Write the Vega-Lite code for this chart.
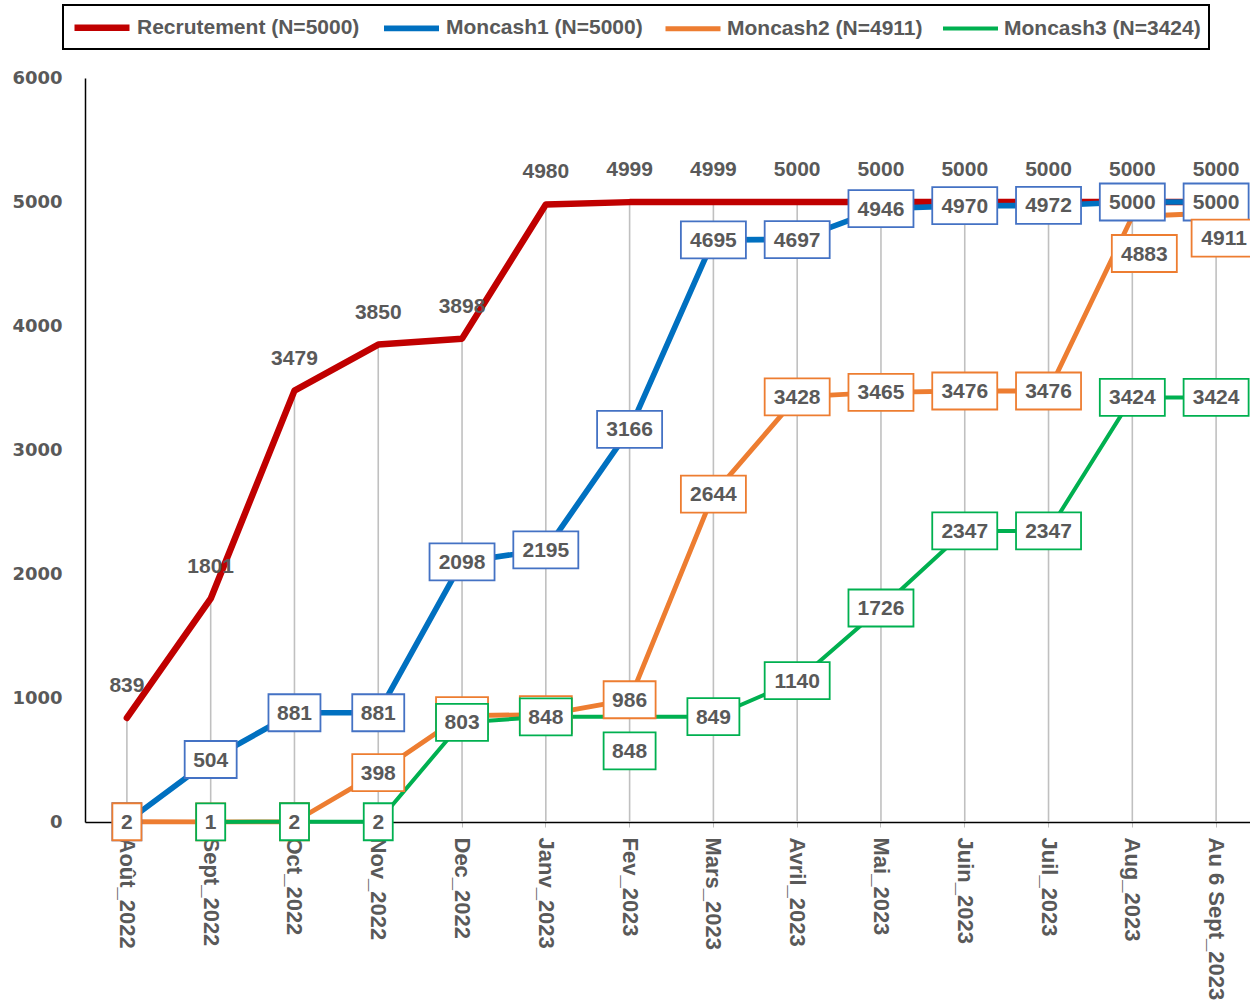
{
  "$schema": "https://vega.github.io/schema/vega-lite/v6.json",
  "width": 1173,
  "height": 744,
  "autosize": "none",
  "padding": {"left": 85, "top": 78, "right": 0, "bottom": 179},
  "background": "white",
  "config": {"view": {"stroke": null}, "font": "Liberation Sans"},
  "data": {
    "values": [
      {"mois": "Août_2022", "serie": "Recrutement (N=5000)", "n": 839},
      {"mois": "Sept_2022", "serie": "Recrutement (N=5000)", "n": 1801},
      {"mois": "Oct_2022", "serie": "Recrutement (N=5000)", "n": 3479},
      {"mois": "Nov_2022", "serie": "Recrutement (N=5000)", "n": 3850},
      {"mois": "Dec_2022", "serie": "Recrutement (N=5000)", "n": 3898},
      {"mois": "Janv_2023", "serie": "Recrutement (N=5000)", "n": 4980},
      {"mois": "Fev_2023", "serie": "Recrutement (N=5000)", "n": 4999},
      {"mois": "Mars_2023", "serie": "Recrutement (N=5000)", "n": 4999},
      {"mois": "Avril_2023", "serie": "Recrutement (N=5000)", "n": 5000},
      {"mois": "Mai_2023", "serie": "Recrutement (N=5000)", "n": 5000},
      {"mois": "Juin_2023", "serie": "Recrutement (N=5000)", "n": 5000},
      {"mois": "Juil_2023", "serie": "Recrutement (N=5000)", "n": 5000},
      {"mois": "Aug_2023", "serie": "Recrutement (N=5000)", "n": 5000},
      {"mois": "Au 6 Sept_2023", "serie": "Recrutement (N=5000)", "n": 5000},
      {"mois": "Août_2022", "serie": "Moncash1 (N=5000)", "n": 2},
      {"mois": "Sept_2022", "serie": "Moncash1 (N=5000)", "n": 504},
      {"mois": "Oct_2022", "serie": "Moncash1 (N=5000)", "n": 881},
      {"mois": "Nov_2022", "serie": "Moncash1 (N=5000)", "n": 881},
      {"mois": "Dec_2022", "serie": "Moncash1 (N=5000)", "n": 2098},
      {"mois": "Janv_2023", "serie": "Moncash1 (N=5000)", "n": 2195},
      {"mois": "Fev_2023", "serie": "Moncash1 (N=5000)", "n": 3166},
      {"mois": "Mars_2023", "serie": "Moncash1 (N=5000)", "n": 4695},
      {"mois": "Avril_2023", "serie": "Moncash1 (N=5000)", "n": 4697},
      {"mois": "Mai_2023", "serie": "Moncash1 (N=5000)", "n": 4946},
      {"mois": "Juin_2023", "serie": "Moncash1 (N=5000)", "n": 4970},
      {"mois": "Juil_2023", "serie": "Moncash1 (N=5000)", "n": 4972},
      {"mois": "Aug_2023", "serie": "Moncash1 (N=5000)", "n": 5000},
      {"mois": "Au 6 Sept_2023", "serie": "Moncash1 (N=5000)", "n": 5000},
      {"mois": "Août_2022", "serie": "Moncash2 (N=4911)", "n": 2},
      {"mois": "Sept_2022", "serie": "Moncash2 (N=4911)", "n": 1},
      {"mois": "Oct_2022", "serie": "Moncash2 (N=4911)", "n": 2},
      {"mois": "Nov_2022", "serie": "Moncash2 (N=4911)", "n": 398},
      {"mois": "Dec_2022", "serie": "Moncash2 (N=4911)", "n": 858},
      {"mois": "Janv_2023", "serie": "Moncash2 (N=4911)", "n": 866},
      {"mois": "Fev_2023", "serie": "Moncash2 (N=4911)", "n": 986},
      {"mois": "Mars_2023", "serie": "Moncash2 (N=4911)", "n": 2644},
      {"mois": "Avril_2023", "serie": "Moncash2 (N=4911)", "n": 3428},
      {"mois": "Mai_2023", "serie": "Moncash2 (N=4911)", "n": 3465},
      {"mois": "Juin_2023", "serie": "Moncash2 (N=4911)", "n": 3476},
      {"mois": "Juil_2023", "serie": "Moncash2 (N=4911)", "n": 3476},
      {"mois": "Aug_2023", "serie": "Moncash2 (N=4911)", "n": 4883},
      {"mois": "Au 6 Sept_2023", "serie": "Moncash2 (N=4911)", "n": 4911},
      {"mois": "Sept_2022", "serie": "Moncash3 (N=3424)", "n": 1},
      {"mois": "Oct_2022", "serie": "Moncash3 (N=3424)", "n": 2},
      {"mois": "Nov_2022", "serie": "Moncash3 (N=3424)", "n": 2},
      {"mois": "Dec_2022", "serie": "Moncash3 (N=3424)", "n": 803},
      {"mois": "Janv_2023", "serie": "Moncash3 (N=3424)", "n": 848},
      {"mois": "Fev_2023", "serie": "Moncash3 (N=3424)", "n": 848},
      {"mois": "Mars_2023", "serie": "Moncash3 (N=3424)", "n": 849},
      {"mois": "Avril_2023", "serie": "Moncash3 (N=3424)", "n": 1140},
      {"mois": "Mai_2023", "serie": "Moncash3 (N=3424)", "n": 1726},
      {"mois": "Juin_2023", "serie": "Moncash3 (N=3424)", "n": 2347},
      {"mois": "Juil_2023", "serie": "Moncash3 (N=3424)", "n": 2347},
      {"mois": "Aug_2023", "serie": "Moncash3 (N=3424)", "n": 3424},
      {"mois": "Au 6 Sept_2023", "serie": "Moncash3 (N=3424)", "n": 3424}
    ]
  },
  "encoding": {
    "x": {
      "field": "mois",
      "type": "ordinal",
      "scale": {"domain": ["Août_2022", "Sept_2022", "Oct_2022", "Nov_2022", "Dec_2022", "Janv_2023", "Fev_2023", "Mars_2023", "Avril_2023", "Mai_2023", "Juin_2023", "Juil_2023", "Aug_2023", "Au 6 Sept_2023"]},
      "axis": {
        "title": null,
        "labelAngle": 90,
        "labelAlign": "left",
        "labelBaseline": "middle",
        "labelPadding": 10,
        "labelFont": "Liberation Sans",
        "labelFontWeight": "bold",
        "labelFontSize": 22,
        "labelColor": "#595959",
        "labelLimit": 400,
        "tickSize": 5,
        "tickColor": "#BFBFBF",
        "domainColor": "#000000",
        "domainWidth": 1.5,
        "grid": false
      }
    },
    "y": {
      "field": "n",
      "type": "quantitative",
      "scale": {"domain": [0, 6000], "nice": false},
      "axis": {
        "title": null,
        "values": [0, 1000, 2000, 3000, 4000, 5000, 6000],
        "format": "d",
        "labelFont": "DejaVu Sans",
        "labelFontWeight": "bold",
        "labelFontSize": 18,
        "labelColor": "#595959",
        "labelPadding": 23,
        "ticks": false,
        "grid": false,
        "domainColor": "#000000",
        "domainWidth": 1.5
      }
    }
  },
  "layer": [
    {
      "transform": [{"aggregate": [{"op": "max", "field": "n", "as": "n"}], "groupby": ["mois"]}],
      "mark": {"type": "rule", "color": "#C0C0C0", "strokeWidth": 1.6},
      "encoding": {
        "y2": {"datum": 0}
      }
    },
    {
      "mark": {"type": "line", "strokeCap": "round", "strokeJoin": "round"},
      "encoding": {
        "order": {"value": null},
        "color": {
          "field": "serie",
          "type": "nominal",
          "scale": {
            "domain": ["Recrutement (N=5000)", "Moncash1 (N=5000)", "Moncash2 (N=4911)", "Moncash3 (N=3424)"],
            "range": ["#C00000", "#0070C0", "#ED7D31", "#00B050"]
          },
          "legend": {
            "title": null,
            "orient": "none",
            "legendX": -22,
            "legendY": -73,
            "direction": "horizontal",
            "symbolType": "M-1,0H4",
            "symbolSize": 484,
            "labelFont": "Liberation Sans",
            "labelFontWeight": "bold",
            "labelFontSize": 21,
            "labelColor": "#595959",
            "labelOffset": 37,
            "labelLimit": 400,
            "columnPadding": 12,
            "padding": 8,
            "strokeColor": "#000000",
            "encode": {"legend": {"update": {"strokeWidth": {"value": 2}}}}
          }
        },
        "strokeWidth": {
          "field": "serie",
          "type": "nominal",
          "scale": {
            "domain": ["Recrutement (N=5000)", "Moncash1 (N=5000)", "Moncash2 (N=4911)", "Moncash3 (N=3424)"],
            "range": [6.5, 4, 4, 4]
          },
          "legend": {
            "title": null,
            "orient": "none",
            "legendX": -22,
            "legendY": -73,
            "direction": "horizontal",
            "symbolType": "M-1,0H4",
            "symbolSize": 484,
            "labelFont": "Liberation Sans",
            "labelFontWeight": "bold",
            "labelFontSize": 21,
            "labelColor": "#595959",
            "labelOffset": 37,
            "labelLimit": 400,
            "columnPadding": 12,
            "padding": 8,
            "strokeColor": "#000000"
          }
        }
      }
    },
    {
      "transform": [{"filter": "datum.serie === 'Recrutement (N=5000)'"}],
      "mark": {"type": "text", "font": "Liberation Sans", "fontWeight": "bold", "fontSize": 21, "fill": "#595959", "align": "center", "baseline": "middle", "dy": -32},
      "encoding": {
        "text": {"field": "n", "type": "quantitative", "format": "d"}
      }
    },
    {
      "transform": [{"filter": "datum.serie === 'Moncash1 (N=5000)'"}],
      "encoding": {
        "text": {"field": "n", "type": "quantitative", "format": "d"},
        "shape": {
          "condition": [
            {"test": "datum.n < 10", "value": "M-0.784,-1H0.784V1H-0.784Z"},
            {"test": "datum.n < 1000", "value": "M-1.405,-1H1.405V1H-1.405Z"}
          ],
          "value": "M-1.757,-1H1.757V1H-1.757Z"
        }
      },
      "layer": [
        {"mark": {"type": "point", "filled": true, "fill": "#FFFFFF", "stroke": "#4472C4", "strokeWidth": 1.8, "opacity": 1, "size": 1369}},
        {"mark": {"type": "text", "font": "Liberation Sans", "fontWeight": "bold", "fontSize": 21, "fill": "#595959", "align": "center", "baseline": "middle", "dy": 1}}
      ]
    },
    {
      "transform": [{"filter": "datum.serie === 'Moncash2 (N=4911)'"}],
      "encoding": {
        "text": {"field": "n", "type": "quantitative", "format": "d"},
        "shape": {
          "condition": [
            {"test": "datum.n < 10", "value": "M-0.784,-1H0.784V1H-0.784Z"},
            {"test": "datum.n < 1000", "value": "M-1.405,-1H1.405V1H-1.405Z"}
          ],
          "value": "M-1.757,-1H1.757V1H-1.757Z"
        }
      },
      "layer": [
        {
          "transform": [{"filter": "datum.mois !== 'Aug_2023' && datum.mois !== 'Au 6 Sept_2023'"}],
          "layer": [
            {"mark": {"type": "point", "filled": true, "fill": "#FFFFFF", "stroke": "#ED7D31", "strokeWidth": 1.8, "opacity": 1, "size": 1369}},
            {"mark": {"type": "text", "font": "Liberation Sans", "fontWeight": "bold", "fontSize": 21, "fill": "#595959", "align": "center", "baseline": "middle", "dy": 1}}
          ]
        },
        {
          "transform": [{"filter": "datum.mois === 'Aug_2023'"}],
          "layer": [
            {"mark": {"type": "point", "filled": true, "fill": "#FFFFFF", "stroke": "#ED7D31", "strokeWidth": 1.8, "opacity": 1, "size": 1369, "xOffset": 12, "yOffset": 37}},
            {"mark": {"type": "text", "font": "Liberation Sans", "fontWeight": "bold", "fontSize": 21, "fill": "#595959", "align": "center", "baseline": "middle", "xOffset": 12, "yOffset": 38}}
          ]
        },
        {
          "transform": [{"filter": "datum.mois === 'Au 6 Sept_2023'"}],
          "layer": [
            {"mark": {"type": "point", "filled": true, "fill": "#FFFFFF", "stroke": "#ED7D31", "strokeWidth": 1.8, "opacity": 1, "size": 1369, "xOffset": 8, "yOffset": 25}},
            {"mark": {"type": "text", "font": "Liberation Sans", "fontWeight": "bold", "fontSize": 21, "fill": "#595959", "align": "center", "baseline": "middle", "xOffset": 8, "yOffset": 26}}
          ]
        }
      ]
    },
    {
      "transform": [{"filter": "datum.serie === 'Moncash3 (N=3424)'"}],
      "encoding": {
        "text": {"field": "n", "type": "quantitative", "format": "d"},
        "shape": {
          "condition": [
            {"test": "datum.n < 10", "value": "M-0.784,-1H0.784V1H-0.784Z"},
            {"test": "datum.n < 1000", "value": "M-1.405,-1H1.405V1H-1.405Z"}
          ],
          "value": "M-1.757,-1H1.757V1H-1.757Z"
        }
      },
      "layer": [
        {
          "transform": [{"filter": "datum.mois !== 'Fev_2023'"}],
          "layer": [
            {"mark": {"type": "point", "filled": true, "fill": "#FFFFFF", "stroke": "#00B050", "strokeWidth": 1.8, "opacity": 1, "size": 1369}},
            {"mark": {"type": "text", "font": "Liberation Sans", "fontWeight": "bold", "fontSize": 21, "fill": "#595959", "align": "center", "baseline": "middle", "dy": 1}}
          ]
        },
        {
          "transform": [{"filter": "datum.mois === 'Fev_2023'"}],
          "layer": [
            {"mark": {"type": "point", "filled": true, "fill": "#FFFFFF", "stroke": "#00B050", "strokeWidth": 1.8, "opacity": 1, "size": 1369, "yOffset": 34}},
            {"mark": {"type": "text", "font": "Liberation Sans", "fontWeight": "bold", "fontSize": 21, "fill": "#595959", "align": "center", "baseline": "middle", "yOffset": 35}}
          ]
        }
      ]
    }
  ]
}
